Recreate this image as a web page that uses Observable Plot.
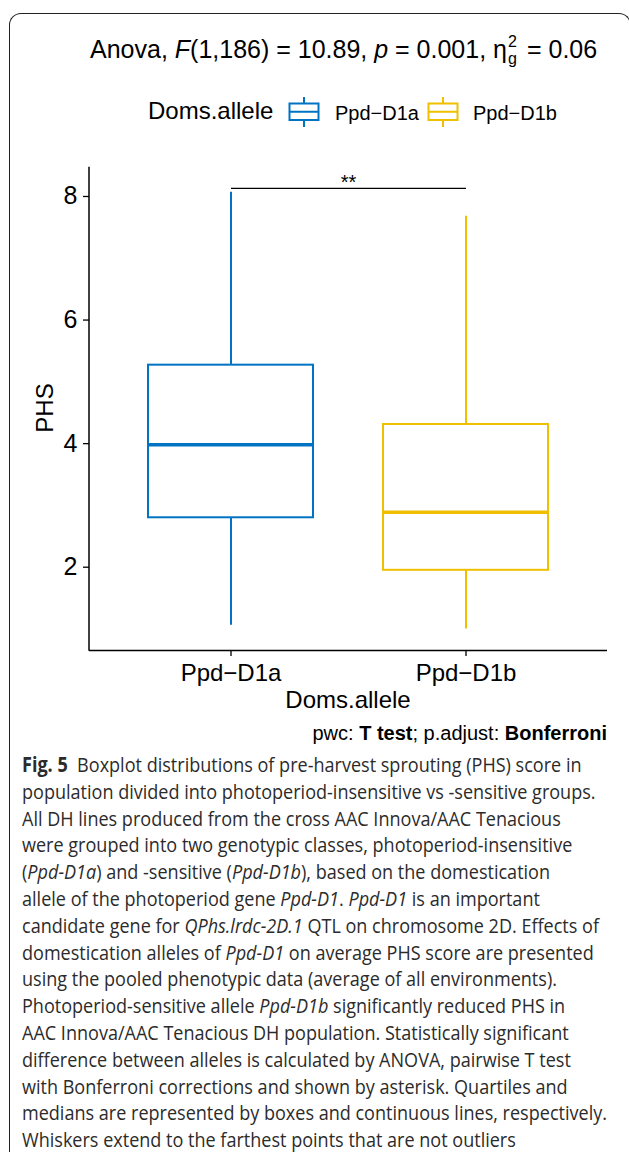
<!DOCTYPE html>
<html>
<head>
<meta charset="utf-8">
<script src="https://cdn.jsdelivr.net/npm/d3@7"></script>
<script src="https://cdn.jsdelivr.net/npm/@observablehq/plot@0.6"></script>
<style>
  body { margin: 0; background: #fff; }
  #page { position: relative; width: 629px; height: 1155px; overflow: hidden; font-family: "Liberation Sans", Arial, Helvetica, sans-serif; color: #000; background: #fff; }
  #frame { position: absolute; left: 9px; top: 13px; width: 622px; height: 1139px; border: 1.3px solid #222; border-bottom: none; border-radius: 12px 12px 0 0; box-sizing: border-box; }
  .abs { position: absolute; white-space: nowrap; }
  #title { left: 90px; top: 33px; font-size: 25px; line-height: 25px; }
  .ss { display: inline-block; position: relative; width: 13px; height: 25px; }
  .ss span { position: absolute; left: 1px; font-size: 16px; line-height: 15px; }
  .ss .sup { top: 1px; }
  .ss .sub { top: 18px; }
  #chart { position: absolute; left: 0; top: 140px; }
  #caption { position: absolute; left: 22px; top: 751px; font-family: "Open Sans", "Noto Sans", sans-serif; font-size: 20.5px; line-height: 26.8px; color: #2b2b2b; transform-origin: 0 0; }
  #caption div { white-space: nowrap; }
</style>
</head>
<body>
<div id="page">
  <div id="frame"></div>
  <div id="title" class="abs">Anova, <i>F</i>(1,186) = 10.89, <i>p</i> = 0.001, η<span class="ss"><span class="sup">2</span><span class="sub">g</span></span> = 0.06</div>
  <div id="legend"></div>
  <div id="chart"></div>
  <div id="ytitle" class="abs" style="left:-5px;top:396px;width:100px;height:24px;line-height:24px;font-size:24px;text-align:center;transform:rotate(-90deg);">PHS</div>
  <div id="xtitle" class="abs" style="left:248px;top:688px;width:200px;line-height:24px;font-size:24px;text-align:center;">Doms.allele</div>
  <div id="pwc" class="abs" style="right:22px;top:723px;font-size:20px;line-height:20px;">pwc: <b>T test</b>; p.adjust: <b>Bonferroni</b></div>
  <div id="caption">
    <div><b>Fig. 5</b>&nbsp; Boxplot distributions of pre-harvest sprouting (PHS) score in</div>
    <div>population divided into photoperiod-insensitive vs -sensitive groups.</div>
    <div>All DH lines produced from the cross AAC Innova/AAC Tenacious</div>
    <div>were grouped into two genotypic classes, photoperiod-insensitive</div>
    <div>(<i>Ppd-D1a</i>) and -sensitive (<i>Ppd-D1b</i>), based on the domestication</div>
    <div>allele of the photoperiod gene <i>Ppd-D1</i>. <i>Ppd-D1</i> is an important</div>
    <div>candidate gene for <i>QPhs.lrdc-2D.1</i> QTL on chromosome 2D. Effects of</div>
    <div>domestication alleles of <i>Ppd-D1</i> on average PHS score are presented</div>
    <div>using the pooled phenotypic data (average of all environments).</div>
    <div>Photoperiod-sensitive allele <i>Ppd-D1b</i> significantly reduced PHS in</div>
    <div>AAC Innova/AAC Tenacious DH population. Statistically significant</div>
    <div>difference between alleles is calculated by ANOVA, pairwise T test</div>
    <div>with Bonferroni corrections and shown by asterisk. Quartiles and</div>
    <div>medians are represented by boxes and continuous lines, respectively.</div>
    <div>Whiskers extend to the farthest points that are not outliers</div>
  </div>
</div>
<script>
// ---- data ----
const alleles = ["Ppd−D1a", "Ppd−D1b"];
const alleleColors = ["#0073C2", "#EFC000"];
const whiskerLow = [1.06, 1.00];
const q1 = [2.80, 1.95];
const median = [3.98, 2.89];
const q3 = [5.27, 4.31];
const whiskerHigh = [8.07, 7.68];
const yTicks = [2, 4, 6, 8];
const yDomain = [0.652, 8.474];
const sigGroups = ["Ppd−D1a", "Ppd−D1b"];
const sigY = [8.13];
const sigLabels = ["**"];
const legendTitle = "Doms.allele";

const stats = alleles.map((a, i) => ({allele: a, lo: whiskerLow[i], q1: q1[i], med: median[i], q3: q3[i], hi: whiskerHigh[i]}));
const sig = sigY.map((y, i) => ({g1: sigGroups[0], g2: sigGroups[1], y, label: sigLabels[i]}));

const leftAxisLine = (index, scales, values, dims) => {
  const x = dims.marginLeft;
  return d3.create("svg:line")
    .attr("x1", x).attr("x2", x)
    .attr("y1", dims.marginTop).attr("y2", dims.height - dims.marginBottom + 0.75)
    .attr("stroke", "#000").attr("stroke-width", 1.5).node();
};

const chart = Plot.plot({
  width: 629,
  height: 585,
  marginTop: 26.7,
  marginBottom: 75,
  marginLeft: 89,
  marginRight: 22,
  style: {fontFamily: "'Liberation Sans', Arial, sans-serif", fontSize: "24px", color: "#000", background: "transparent", overflow: "visible"},
  x: {type: "band", domain: alleles, paddingInner: 0.3, paddingOuter: 0.25, label: null},
  y: {domain: yDomain, label: null},
  color: {domain: alleles, range: alleleColors},
  marks: [
    Plot.axisY({ticks: yTicks, tickSize: 6, tickPadding: 6, fontSize: 25, label: null, tickFormat: d => String(d), stroke: "#000", strokeWidth: 1.3}),
    Plot.axisX({tickSize: 6, tickPadding: 7, fontSize: 24, label: null, stroke: "#000", strokeWidth: 1.3}),
    Plot.ruleY([yDomain[0]], {stroke: "#000", strokeWidth: 1.5}),
    leftAxisLine,
    Plot.ruleX(stats, {x: "allele", y1: "q3", y2: "hi", stroke: "allele", strokeWidth: 2}),
    Plot.ruleX(stats, {x: "allele", y1: "lo", y2: "q1", stroke: "allele", strokeWidth: 2}),
    Plot.barY(stats, {x: "allele", y1: "q1", y2: "q3", fill: "white", stroke: "allele", strokeWidth: 2}),
    Plot.tickY(stats, {x: "allele", y: "med", stroke: "allele", strokeWidth: 3.5}),
    Plot.link(sig, {x1: "g1", x2: "g2", y1: "y", y2: "y", stroke: "#000", strokeWidth: 1.3}),
    Plot.text(sig, {y: "y", text: "label", lineAnchor: "bottom", fontSize: 20, dy: 1, fill: "#000"})
  ]
});
document.getElementById("chart").appendChild(chart);

// ---- legend (ggplot-style boxplot keys) ----
const legend = document.getElementById("legend");
function addText(txt, left, centerY, fs) {
  const d = document.createElement("div");
  d.className = "abs";
  d.style.left = left + "px";
  d.style.top = (centerY - fs / 2) + "px";
  d.style.fontSize = fs + "px";
  d.style.lineHeight = fs + "px";
  d.textContent = txt;
  legend.appendChild(d);
}
function addKey(left, color) {
  const svg = d3.create("svg").attr("width", 32).attr("height", 32)
    .style("position", "absolute").style("left", left + "px").style("top", "96px");
  svg.append("line").attr("x1", 16).attr("x2", 16).attr("y1", 1).attr("y2", 31).attr("stroke", color).attr("stroke-width", 2);
  svg.append("rect").attr("x", 1.5).attr("y", 7.5).attr("width", 29).attr("height", 16.5).attr("fill", "white").attr("stroke", color).attr("stroke-width", 2);
  svg.append("line").attr("x1", 1.5).attr("x2", 30.5).attr("y1", 15.75).attr("y2", 15.75).attr("stroke", color).attr("stroke-width", 2);
  legend.appendChild(svg.node());
}
addText(legendTitle, 148, 111, 24);
addKey(288, alleleColors[0]);
addText(alleles[0], 335, 112.5, 20);
addKey(427, alleleColors[1]);
addText(alleles[1], 473, 112.5, 20);

// ---- fit caption width ----
const cap = document.getElementById("caption");
const lines = Array.from(cap.children);
const w2 = lines[1].getBoundingClientRect().width;
cap.style.transform = `scaleX(${585 / w2})`;
</script>
</body>
</html>
